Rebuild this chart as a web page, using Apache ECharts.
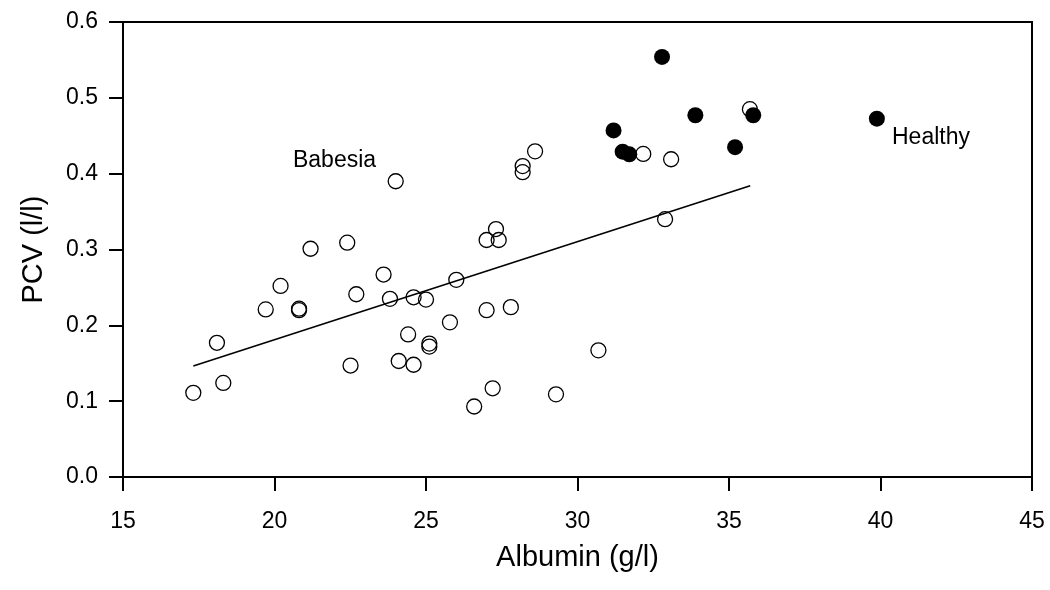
<!DOCTYPE html>
<html>
<head>
<meta charset="utf-8">
<script src="https://cdn.jsdelivr.net/npm/echarts@6/dist/echarts.min.js"></script>
<style>html,body{margin:0;padding:0;background:#fff}#c{width:1050px;height:590px}</style>
</head>
<body>
<div id="c"></div>
<script>
// Babesia (open circles): [albumin g/l, PCV l/l]
const babesiaPoints = [
  [17.32,0.111],[18.10,0.177],[18.31,0.124],[19.71,0.221],[20.20,0.252],
  [20.81,0.222],[20.81,0.220],[21.19,0.301],[22.40,0.309],[22.51,0.147],
  [22.70,0.241],[23.60,0.267],[23.81,0.235],[24.00,0.390],[24.10,0.153],
  [24.41,0.188],[24.59,0.237],[24.59,0.148],[25.00,0.234],[25.11,0.176],
  [25.11,0.172],[25.79,0.204],[26.00,0.260],[26.59,0.093],[27.00,0.3125],
  [27.00,0.220],[27.20,0.117],[27.31,0.327],[27.40,0.3125],[27.80,0.224],
  [28.19,0.410],[28.19,0.402],[28.60,0.4295],[29.29,0.109],[30.69,0.167],
  [32.17,0.426],[32.89,0.340],[33.09,0.419],[35.69,0.485]
];
// Healthy (filled circles)
const healthyPoints = [
  [31.19,0.457],[31.49,0.429],[31.71,0.4255],[32.79,0.554],
  [33.89,0.477],[35.20,0.435],[35.80,0.477],[39.88,0.4725]
];
// Regression line end points
const regressionLine = [[17.32,0.1464],[35.70,0.384]];
// Annotations (text anchored at left-middle)
const annotations = [
  {name:'Babesia', value:[20.61,0.417]},
  {name:'Healthy', value:[40.38,0.4477]}
];
const xTicks = [15,20,25,30,35,40,45];
const yTicks = [0,0.1,0.2,0.3,0.4,0.5,0.6];

const font = 'Liberation Sans, Arial, sans-serif';
const chart = echarts.init(document.getElementById('c'), null, {renderer:'canvas'});
chart.setOption({
  backgroundColor:'#fff',
  animation:false,
  grid:{left:123, right:18, top:22, bottom:113, containLabel:false, outerBoundsMode:'none',
        show:true, borderColor:'#000', borderWidth:2, backgroundColor:'transparent'},
  xAxis:{
    type:'value', min:xTicks[0], max:xTicks[xTicks.length-1], interval:5,
    name:'Albumin (g/l)', nameLocation:'middle', nameGap:66,
    nameTextStyle:{fontFamily:font, fontSize:29, color:'#000'},
    axisLine:{show:true, onZero:false, lineStyle:{color:'#000', width:2}},
    axisTick:{show:true, length:14, lineStyle:{color:'#000', width:2}},
    axisLabel:{fontFamily:font, fontSize:23, color:'#000', margin:33},
    splitLine:{show:false}
  },
  yAxis:{
    type:'value', min:yTicks[0], max:yTicks[yTicks.length-1], interval:0.1,
    name:'PCV (l/l)', nameLocation:'middle', nameGap:75, nameRotate:90,
    nameTextStyle:{fontFamily:font, fontSize:29, color:'#000'},
    axisLine:{show:true, onZero:false, lineStyle:{color:'#000', width:2}},
    axisTick:{show:true, length:14, lineStyle:{color:'#000', width:2}},
    axisLabel:{fontFamily:font, fontSize:23, color:'#000', margin:25, formatter:v=>v.toFixed(1)},
    splitLine:{show:false}
  },
  series:[
    {type:'line', data:regressionLine, symbol:'none', lineStyle:{color:'#000', width:1.6}, z:1},
    {type:'scatter', data:babesiaPoints, symbol:'circle', symbolSize:15,
     itemStyle:{color:'rgba(0,0,0,0)', borderColor:'#000', borderWidth:1.3, opacity:1}, z:2},
    {type:'scatter', data:healthyPoints, symbol:'circle', symbolSize:16,
     itemStyle:{color:'#000', borderColor:'#000', borderWidth:0, opacity:1}, z:3},
    {type:'scatter', data:annotations, symbolSize:0, z:4, itemStyle:{opacity:1},
     label:{show:true, position:'inside', formatter:p=>p.name, fontFamily:font, fontSize:23, color:'#000',
       align:'left', verticalAlign:'middle', textBorderWidth:0}}
  ]
});
</script>
</body>
</html>
